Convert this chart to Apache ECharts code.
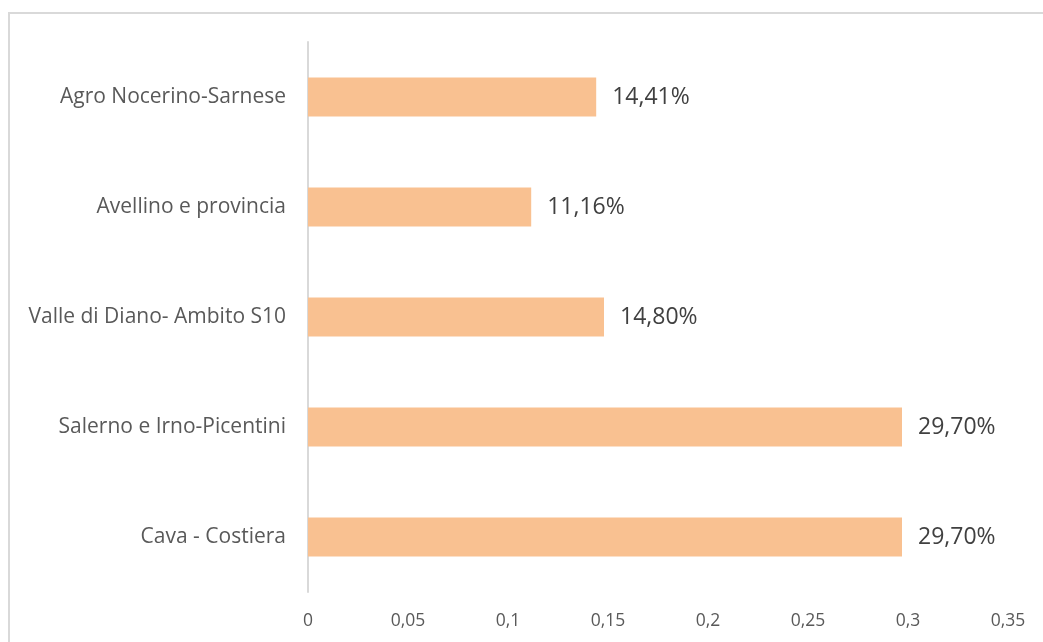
<!DOCTYPE html>
<html>
<head>
<meta charset="utf-8">
<script src="https://cdn.jsdelivr.net/npm/echarts@6/dist/echarts.min.js"></script>
<style>
html,body{margin:0;padding:0;background:#fff;}
#c{width:1043px;height:642px;}
</style>
</head>
<body>
<div id="c"></div>
<script>
const categories = ["Agro Nocerino-Sarnese", "Avellino e provincia", "Valle di Diano- Ambito S10", "Salerno e Irno-Picentini", "Cava - Costiera"];
const values = [0.1441, 0.1116, 0.148, 0.297, 0.297];
const xTicks = [0, 0.05, 0.1, 0.15, 0.2, 0.25, 0.3, 0.35];

const chart = echarts.init(document.getElementById('c'), null, {renderer: 'canvas'});
chart.setOption({
  animation: false,
  backgroundColor: '#ffffff',
  graphic: [{
    type: 'rect',
    shape: {x: 9, y: 13, width: 1100, height: 700},
    style: {fill: 'none', stroke: '#d9d9d9', lineWidth: 2},
    silent: true
  }],
  grid: {left: 308, right: 35, top: 42, bottom: 50},
  xAxis: {
    type: 'value',
    min: xTicks[0],
    max: xTicks[xTicks.length - 1],
    interval: 0.05,
    axisLine: {show: false},
    axisTick: {show: false},
    splitLine: {show: false},
    axisLabel: {
      margin: 20,
      color: '#595959',
      fontFamily: 'Open Sans',
      fontSize: 17.5,
      formatter: v => String(+v.toFixed(2)).replace('.', ',')
    }
  },
  yAxis: {
    type: 'category',
    data: categories,
    inverse: true,
    axisLine: {show: true, lineStyle: {color: '#d9d9d9', width: 2}},
    axisTick: {show: false},
    axisLabel: {
      margin: 22,
      color: '#595959',
      fontFamily: 'Open Sans',
      fontSize: 21
    }
  },
  series: [{
    type: 'bar',
    data: values,
    barWidth: 39,
    itemStyle: {color: '#f9c191'},
    label: {
      show: true,
      position: 'right',
      distance: 16,
      color: '#404040',
      fontFamily: 'Open Sans',
      fontSize: 23,
      formatter: p => (p.value * 100).toFixed(2).replace('.', ',') + '%'
    }
  }]
});
</script>
</body>
</html>
